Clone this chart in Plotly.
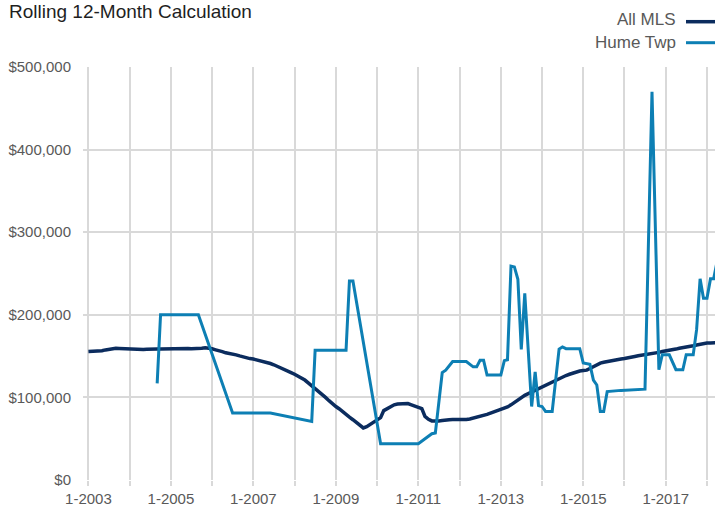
import plotly.graph_objects as go
import pandas as pd

# ---------------- data ----------------
title_text = "Rolling 12-Month Calculation"
series_names = ["All MLS", "Hume Twp"]

# All MLS, monthly from 2003-01 (values in $ thousands)
mls_start = "2003-01-01"
mls_k = [
    155.5, 155.5, 155.6, 156.0, 156.5, 157.5, 158.5, 159.2, 159.5, 159.3, 159.0, 158.8,  # 2003
    158.5, 158.3, 158.0, 157.8, 158.0, 158.4, 158.7, 158.8, 158.6, 158.5, 158.7, 158.9,  # 2004
    159.0, 158.8, 158.7, 158.9, 159.1, 159.2, 159.0, 158.9, 159.2, 159.6, 160.2, 159.8,  # 2005
    158.8, 157.6, 157.0, 155.5, 154.0, 153.4, 152.5, 151.5, 150.2, 149.0, 148.0, 147.0,  # 2006
    146.4, 145.5, 144.5, 143.5, 142.2, 141.0, 139.5, 137.8, 136.0, 134.0, 132.0, 130.0,  # 2007
    128.0, 126.0, 123.8, 121.0, 117.5, 114.0, 111.0, 108.0, 104.0, 100.0, 96.0, 92.0,    # 2008
    89.0, 86.0, 82.5, 79.0, 76.0, 73.0, 69.5, 66.0, 63.0, 64.5, 67.0, 69.5,              # 2009
    72.0, 75.5, 84.0, 86.5, 89.0, 91.0, 92.0, 92.5, 93.0, 92.5, 91.0, 89.5,              # 2010
    88.0, 86.5, 77.0, 73.5, 71.5, 71.0, 71.5, 72.0, 72.8, 73.0, 73.2, 73.0,              # 2011
    72.8, 73.0, 73.2, 73.8, 74.8, 75.8, 76.8, 78.0, 79.5, 81.0, 82.5, 83.8,              # 2012
    85.2, 86.8, 88.5, 91.0, 94.0, 97.0, 100.0, 102.5, 104.5, 106.5, 108.5, 110.5,        # 2013
    112.5, 114.5, 116.5, 118.5, 121.0, 123.0, 125.0, 126.5, 128.0, 129.5, 131.0, 132.0,  # 2014
    132.5, 133.0, 135.0, 137.5, 140.0, 141.5, 142.5, 143.5, 144.0, 144.5, 145.5, 146.4,  # 2015
    147.0, 147.5, 148.5, 149.5, 150.4, 151.0, 151.5, 152.0, 152.5, 153.5, 154.5, 155.5,  # 2016
    156.0, 156.5, 157.5, 158.5, 159.5, 160.0, 161.0, 161.7, 162.5, 163.5, 164.5, 165.5,  # 2017
    165.8, 166.0, 166.0, 166.2,                                                          # 2018
]

# Hume Twp: months with reported values (gaps are bridged by the line)
hume_months = [
    "2004-09", "2004-10", "2005-09", "2006-07", "2007-06", "2008-06", "2008-07",
    "2009-04", "2009-05", "2009-06", "2010-02", "2011-01", "2011-05", "2011-06",
    "2011-08", "2011-09", "2011-11", "2012-03", "2012-05", "2012-06", "2012-07",
    "2012-08", "2012-09", "2013-01", "2013-02", "2013-03", "2013-04", "2013-05",
    "2013-06", "2013-07", "2013-08", "2013-10", "2013-11", "2013-12", "2014-01",
    "2014-02", "2014-04", "2014-06", "2014-07", "2014-08", "2014-12", "2015-01",
    "2015-03", "2015-04", "2015-05", "2015-06", "2015-07", "2015-08", "2015-12",
    "2016-07", "2016-09", "2016-11", "2016-12", "2017-02", "2017-04", "2017-06",
    "2017-07", "2017-09", "2017-10", "2017-11", "2017-12", "2018-01", "2018-02",
    "2018-03", "2018-04",
]
hume_k = [
    117, 200, 200, 81, 81, 71, 157,
    157, 241, 241, 44, 44, 56, 57,
    130, 133, 143.5, 143.5, 137, 137, 145,
    145, 127, 127, 144.5, 145.5, 259, 258,
    243, 158, 226, 89, 131, 90, 89,
    83, 83, 158.5, 161, 159, 159, 141.6,
    140, 121, 115, 83, 83, 107, 108.5,
    110, 470, 133.5, 151.6, 151.6, 133.5, 133.5,
    151.6, 151.6, 182, 243.5, 220, 220, 243.5,
    243.5, 265,
]

y_ticks = [0, 100000, 200000, 300000, 400000, 500000]

# ---------------- build ----------------
mls_dates = pd.date_range(mls_start, periods=len(mls_k), freq="MS")
mls_vals = [v * 1000 for v in mls_k]
hume_dates = pd.to_datetime([m + "-01" for m in hume_months])
hume_vals = [v * 1000 for v in hume_k]

W, H = 715, 515
L, R, T, B = 83, 0, 67, 35
PW, PH = W - L - R, H - T - B


def px_x(x):  # screen pixel -> paper fraction
    return (x - L) / PW


def px_y(y):
    return (H - B - y) / PH


mls_color = "#0b2c5e"
hume_color = "#0d7fb4"
grid = "#d9d9d9"
label_color = "#595959"
font_family = "Liberation Sans, Arial, sans-serif"

fig = go.Figure()
fig.add_trace(go.Scatter(x=mls_dates, y=mls_vals, mode="lines", name=series_names[0],
                         line=dict(color=mls_color, width=3.5), showlegend=False))
fig.add_trace(go.Scatter(x=hume_dates, y=hume_vals, mode="lines", name=series_names[1],
                         line=dict(color=hume_color, width=3), showlegend=False))

fig.update_layout(
    width=W, height=H, autosize=False,
    margin=dict(l=L, r=R, t=T, b=B, pad=0),
    paper_bgcolor="white", plot_bgcolor="white",
    font=dict(family=font_family, color=label_color, size=15),
    xaxis=dict(
        type="date",
        range=["2002-11-14", "2018-03-13"],
        tick0="2003-01-01", dtick="M24", tickformat="%-m-%Y",
        showgrid=True, gridcolor=grid, gridwidth=2,
        ticks="outside", ticklen=5, tickcolor=grid, tickwidth=2,
        minor=dict(dtick="M12", tick0="2003-01-01", showgrid=True, gridcolor=grid,
                   gridwidth=2, ticks="outside", ticklen=5, tickcolor=grid, tickwidth=2),
        showline=False, zeroline=False,
        tickfont=dict(size=15, color=label_color),
        ticklabelstandoff=0,
        automargin=False,
    ),
    yaxis=dict(
        range=[0, 500000], tickvals=y_ticks, tickformat="$,.0f",
        showgrid=True, gridcolor=grid, gridwidth=2,
        zeroline=False, showline=False, ticks="",
        tickfont=dict(size=15, color=label_color),
        ticklabelstandoff=11,
        automargin=False,
    ),
)

# title
fig.add_annotation(text=title_text, xref="paper", yref="paper",
                   x=px_x(7), y=px_y(12), xanchor="left", yanchor="middle",
                   showarrow=False, font=dict(size=19, color="#1f1f1f", family=font_family))

# legend (text to the left of the line sample)
legend_rows = [(series_names[0], mls_color, 20, 21.7, 3.5),
               (series_names[1], hume_color, 42, 42.7, 3)]
for name, col, ty, ly, lw in legend_rows:
    fig.add_annotation(text=name, xref="paper", yref="paper",
                       x=px_x(678), y=px_y(ty), xanchor="right", yanchor="middle",
                       showarrow=False, font=dict(size=17, color=label_color, family=font_family))
    fig.add_shape(type="line", xref="paper", yref="paper",
                  x0=px_x(686), x1=px_x(716), y0=px_y(ly), y1=px_y(ly),
                  line=dict(color=col, width=lw))

# remove the default page margin so the figure sits at the window's top-left corner
fig.write_html("out.html", config={"displayModeBar": False},
               post_script="document.body.style.margin='0';")
